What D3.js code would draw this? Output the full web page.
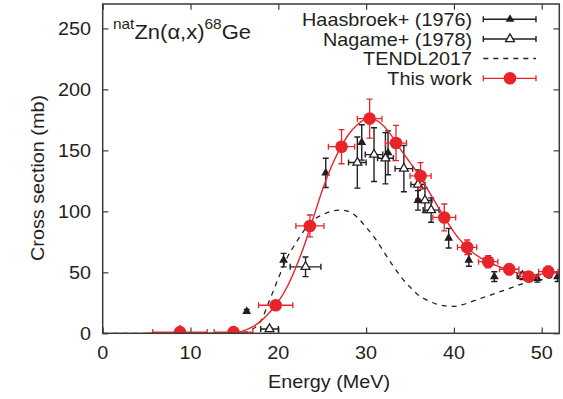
<!DOCTYPE html>
<html>
<head>
<meta charset="utf-8">
<script src="https://cdn.jsdelivr.net/npm/d3@7"></script>
<style>
  html, body { margin: 0; padding: 0; background: #fff; }
  svg { display: block; font-family: "Liberation Sans", Arial, Helvetica, sans-serif; }
</style>
</head>
<body>
<svg id="chart" width="563" height="399"></svg>
<script>
// ---- data ----
const xTicks = [0, 10, 20, 30, 40, 50];
const yTicks = [0, 50, 100, 150, 200, 250];

// This work (red)
const thisX  = [8.8, 14.9, 19.7, 23.6, 27.2, 30.4, 33.4, 36.2, 38.9, 41.5, 43.9, 46.3, 48.5, 50.75];
const thisY  = [1, 1, 23, 88, 153, 176, 156, 129, 95, 70.5, 58.7, 52.5, 46.5, 50.5];
const thisDy = [0, 0, 2, 9, 14, 16, 14.5, 11, 11, 6, 5, 4.5, 4, 4.5];
const thisDx = [3.1, 2.2, 1.95, 1.6, 1.5, 1.4, 1.2, 1.2, 1.3, 1.1, 1.1, 1.1, 1.0, 1.1];

// Haasbroek+ (1976) filled triangles
const haasX  = [8.8, 16.4, 20.6, 25.4, 29.5, 32.5, 35.9, 39.4, 41.7, 44.6, 49.5, 51.8];
const haasY  = [3, 18, 60, 131.5, 156.5, 148, 109, 78, 60, 46.5, 45, 46.5];
const haasDy = [0, 1.5, 5.5, 12, 14.5, 18, 8, 8, 5, 4, 3, 4];

// Nagame+ (1978) open triangles
const nagX  = [19.0, 23.1, 29.0, 30.9, 32.2, 34.3, 35.9, 36.7, 37.4, 47.8];
const nagY  = [3.5, 54.5, 140, 146.5, 143.5, 135, 122, 109, 101, 47];
const nagDy = [1, 8, 21, 22, 21, 19, 12, 10, 10, 3];
const nagDx = [1, 1.75, 1, 1, 0.9, 1, 0.8, 0.8, 0.9, 0.6];

// TENDL2017 (dashed)
const tendlX = [0, 5, 10, 15, 16, 17, 18, 19, 20, 21, 22, 23, 24, 25, 26, 27, 28, 29, 30, 31, 32, 33, 34, 35, 36, 37, 38, 39, 40, 41, 42, 44, 46, 48, 50, 52];
const tendlY = [0, 0, 0, 0, 0.5, 3, 10, 27, 45, 62, 74, 85, 93, 97, 100, 101, 100, 95, 87, 78, 67, 56, 46, 38, 31, 27, 24, 22.5, 22, 23.5, 26, 31, 36, 41, 44, 47];

// Fit curve of this work (red line)
const fitX = [5, 10, 15, 16, 17, 18, 19, 20, 21, 22, 23, 24, 25, 26, 27, 28, 29, 30, 31, 32, 33, 34, 35, 36, 37, 38, 39, 40, 41, 42, 43, 44, 45, 46, 47, 48, 49, 50, 51, 52];
const fitY = [0, 0, 0, 2, 5, 10, 17, 26, 38, 54, 73, 95, 117, 136, 151, 163, 171, 175.5, 175, 170, 161, 150, 140, 130, 118, 106, 94, 83, 74, 67, 62, 58, 55, 52.5, 50, 48.5, 48, 48.5, 49.5, 50.5];

const legendLabels = ["Haasbroek+ (1976)", "Nagame+ (1978)", "TENDL2017", "This work"];

// ---- layout ----
const L = 102.7, R = 559.3, T = 4, B = 333.3;
const RED = "#e8242b", BLK = "#231f20", AX = "#3a3a3a";
const STRETCH = 1.1, FS = 18;

const svg = d3.select("#chart");
const x = d3.scaleLinear().domain([0, 52]).range([L, R]);
const y = d3.scaleLinear().domain([0, 270]).range([B, T]);

svg.append("defs").append("clipPath").attr("id", "clip")
  .append("rect").attr("x", L).attr("y", T).attr("width", R - L).attr("height", B - T);

function stext(px, py, txt, anchor, size, rot) {
  const g = svg.append("g").attr("transform",
    `translate(${px},${py})` + (rot ? ` rotate(${rot})` : "") + ` scale(${STRETCH},1)`);
  g.append("text").attr("x", 0).attr("y", 0).attr("text-anchor", anchor)
    .attr("font-size", size).attr("fill", BLK).text(txt);
  return g;
}

// axes (ticks inward, mirrored)
const tl = 5.7;
const axB = svg.append("g").attr("transform", `translate(0,${B})`)
  .call(d3.axisBottom(x).tickValues(xTicks).tickSize(-tl).tickFormat(""));
const axT = svg.append("g").attr("transform", `translate(0,${T})`)
  .call(d3.axisTop(x).tickValues(xTicks).tickSize(-tl).tickFormat(""));
const axL = svg.append("g").attr("transform", `translate(${L},0)`)
  .call(d3.axisLeft(y).tickValues(yTicks).tickSize(-tl).tickFormat(""));
const axR = svg.append("g").attr("transform", `translate(${R},0)`)
  .call(d3.axisRight(y).tickValues(yTicks).tickSize(-tl).tickFormat(""));
[axB, axT, axL, axR].forEach(a => {
  a.select(".domain").remove();
  a.selectAll(".tick line").attr("stroke", AX).attr("stroke-width", 1.2);
});

// tick labels
xTicks.forEach(v => stext(x(v), 359.3, String(v), "middle", FS));
yTicks.forEach(v => stext(91, y(v) + 6.3, String(v), "end", FS));

// axis titles
stext((L + R) / 2 - 2, 388, "Energy (MeV)", "middle", FS);
stext(44, 178, "Cross section (mb)", "middle", FS, -90);

const plot = svg.append("g").attr("clip-path", "url(#clip)");

// TENDL dashed
plot.append("path")
  .datum(tendlX.map((d, i) => [d, tendlY[i]]))
  .attr("fill", "none").attr("stroke", BLK).attr("stroke-width", 1.3)
  .attr("stroke-dasharray", "5,5")
  .attr("d", d3.line().x(d => x(d[0])).y(d => y(d[1])).curve(d3.curveMonotoneX));

// error bar helper
function errbars(g, xs, ys, dxs, dys, color, cap, sw) {
  xs.forEach((xv, i) => {
    const cx = x(xv), cy = y(ys[i]);
    const dy = dys ? dys[i] : 0, dx = dxs ? dxs[i] : 0;
    if (dy > 0) {
      const y1 = y(ys[i] + dy), y2 = y(ys[i] - dy);
      g.append("line").attr("x1", cx).attr("x2", cx).attr("y1", y1).attr("y2", y2)
        .attr("stroke", color).attr("stroke-width", sw);
      [y1, y2].forEach(yy => g.append("line").attr("x1", cx - cap).attr("x2", cx + cap)
        .attr("y1", yy).attr("y2", yy).attr("stroke", color).attr("stroke-width", sw));
    }
    if (dx > 0) {
      const x1 = x(xv - dx), x2 = x(xv + dx);
      g.append("line").attr("x1", x1).attr("x2", x2).attr("y1", cy).attr("y2", cy)
        .attr("stroke", color).attr("stroke-width", sw);
      [x1, x2].forEach(xx => g.append("line").attr("x1", xx).attr("x2", xx)
        .attr("y1", cy - cap).attr("y2", cy + cap).attr("stroke", color).attr("stroke-width", sw));
    }
  });
}

const tri = d3.symbol().type(d3.symbolTriangle).size(34);

// Haasbroek
const gH = plot.append("g");
errbars(gH, haasX, haasY, null, haasDy, BLK, 3, 1.4);
gH.selectAll("path.h").data(haasX).join("path")
  .attr("transform", (d, i) => `translate(${x(d)},${y(haasY[i])})`)
  .attr("d", tri).attr("fill", BLK);

// Nagame
const gN = plot.append("g");
errbars(gN, nagX, nagY, nagDx, nagDy, BLK, 3, 1.4);
gN.selectAll("path.n").data(nagX).join("path")
  .attr("transform", (d, i) => `translate(${x(d)},${y(nagY[i])})`)
  .attr("d", tri).attr("fill", "#fff").attr("stroke", BLK).attr("stroke-width", 1.3);

// fit curve
plot.append("path")
  .datum(fitX.map((d, i) => [d, fitY[i]]))
  .attr("fill", "none").attr("stroke", RED).attr("stroke-width", 1.4)
  .attr("d", d3.line().x(d => x(d[0])).y(d => y(d[1])).curve(d3.curveMonotoneX));

// this work
const gR = plot.append("g");
errbars(gR, thisX, thisY, thisDx, thisDy, RED, 3, 1.3);
gR.selectAll("circle").data(thisX).join("circle")
  .attr("cx", d => x(d)).attr("cy", (d, i) => y(thisY[i])).attr("r", 6.3).attr("fill", RED);

// frame
svg.append("rect").attr("x", L).attr("y", T).attr("width", R - L).attr("height", B - T)
  .attr("fill", "none").attr("stroke", AX).attr("stroke-width", 1.5);

// title
const tg = svg.append("g").attr("transform", `translate(113,39) scale(${STRETCH},1)`);
const tt = tg.append("text").attr("x", 0).attr("y", 0).attr("fill", BLK);
tt.append("tspan").attr("font-size", 14).attr("dy", -10).text("nat");
tt.append("tspan").attr("font-size", 20).attr("dy", 10).text("Zn(α,x)");
tt.append("tspan").attr("font-size", 14).attr("dy", -10).text("68");
tt.append("tspan").attr("font-size", 20).attr("dy", 10).text("Ge");

// legend
const legY = [19.3, 39.0, 58.5, 78.3];
const lx1 = 483.3, lx2 = 536, lxc = 510;
legendLabels.forEach((lab, i) => stext(472, legY[i] + 6.5, lab, "end", FS));
// Haasbroek entry
svg.append("line").attr("x1", lx1).attr("x2", lx2).attr("y1", legY[0]).attr("y2", legY[0]).attr("stroke", BLK).attr("stroke-width", 1.4);
[lx1, lx2].forEach(xx => svg.append("line").attr("x1", xx).attr("x2", xx).attr("y1", legY[0] - 3).attr("y2", legY[0] + 3).attr("stroke", BLK).attr("stroke-width", 1.4));
svg.append("path").attr("transform", `translate(${lxc},${legY[0]})`).attr("d", tri).attr("fill", BLK);
// Nagame entry
svg.append("line").attr("x1", lx1).attr("x2", lx2).attr("y1", legY[1]).attr("y2", legY[1]).attr("stroke", BLK).attr("stroke-width", 1.4);
[lx1, lx2].forEach(xx => svg.append("line").attr("x1", xx).attr("x2", xx).attr("y1", legY[1] - 3).attr("y2", legY[1] + 3).attr("stroke", BLK).attr("stroke-width", 1.4));
svg.append("path").attr("transform", `translate(${lxc},${legY[1]})`).attr("d", tri).attr("fill", "#fff").attr("stroke", BLK).attr("stroke-width", 1.3);
// TENDL entry
svg.append("line").attr("x1", lx1).attr("x2", lx2).attr("y1", legY[2]).attr("y2", legY[2]).attr("stroke", BLK).attr("stroke-width", 1.3).attr("stroke-dasharray", "5,5");
// This work entry
svg.append("line").attr("x1", lx1).attr("x2", lx2).attr("y1", legY[3]).attr("y2", legY[3]).attr("stroke", RED).attr("stroke-width", 1.3);
[lx1, lx2].forEach(xx => svg.append("line").attr("x1", xx).attr("x2", xx).attr("y1", legY[3] - 3).attr("y2", legY[3] + 3).attr("stroke", RED).attr("stroke-width", 1.3));
svg.append("circle").attr("cx", lxc).attr("cy", legY[3]).attr("r", 6.3).attr("fill", RED);
</script>
</body>
</html>
